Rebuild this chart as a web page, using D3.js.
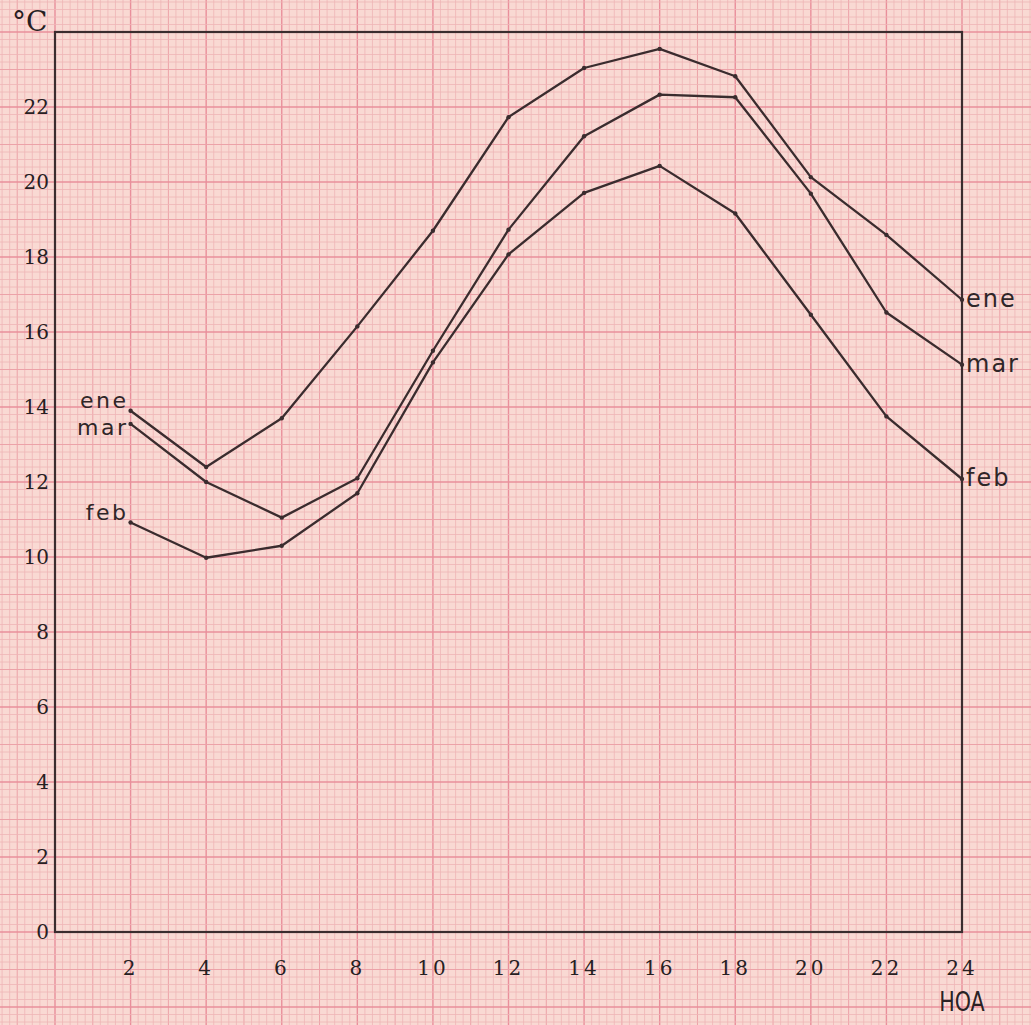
<!DOCTYPE html>
<html><head><meta charset="utf-8">
<script src="https://cdn.jsdelivr.net/npm/d3@7"></script>
<style>html,body{margin:0;padding:0;background:#f8d5d0;}svg{display:block;}</style>
</head><body><svg id="c" width="1031" height="1025"></svg>
<script>
const hours = [2,4,6,8,10,12,14,16,18,20,22,24];
const ene = [13.9,12.4,13.7,16.15,18.7,21.73,23.04,23.55,22.82,20.13,18.59,16.86];
const feb = [10.92,9.98,10.3,11.7,15.19,18.07,19.71,20.43,19.16,16.46,13.75,12.08];
const mar = [13.55,12.0,11.05,12.1,15.5,18.73,21.22,22.33,22.26,19.69,16.52,15.13];
const xTicks = [2,4,6,8,10,12,14,16,18,20,22,24];
const yTicks = [0,2,4,6,8,10,12,14,16,18,20,22];
const seriesNames = ["ene","mar","feb"];

const W = 1031, H = 1025;
const svg = d3.select("#c");
const x = d3.scaleLinear().domain([0,24]).range([55,962]);
const y = d3.scaleLinear().domain([0,24]).range([932,32]);

// graph paper
svg.append("rect").attr("width",W).attr("height",H).attr("fill","#f9d9d3");
const g = svg.append("g");
const xs = d3.range(Math.ceil(x.invert(0)/0.2)*0.2, x.invert(W), 0.2);
const ys = d3.range(Math.ceil(y.invert(H)/0.2)*0.2, y.invert(0), 0.2);
function weight(v){
  const k = Math.round(v/0.2);
  if (k % 10 === 0) return {c:"#e98f9b", w:1.4};
  if (k % 5 === 0) return {c:"#eca2a8", w:1.0};
  return {c:"#efb5b6", w:0.8};
}
xs.forEach(v=>{const s=weight(v); g.append("line").attr("x1",x(v)).attr("x2",x(v)).attr("y1",0).attr("y2",H).attr("stroke",s.c).attr("stroke-width",s.w);});
ys.forEach(v=>{const s=weight(v); g.append("line").attr("y1",y(v)).attr("y2",y(v)).attr("x1",0).attr("x2",W).attr("stroke",s.c).attr("stroke-width",s.w);});

const ink = "#3a2c2e";
// frame
svg.append("rect").attr("x",x(0)).attr("y",y(24)).attr("width",x(24)-x(0)).attr("height",y(0)-y(24))
  .attr("fill","none").attr("stroke",ink).attr("stroke-width",2.2);

// axis labels
const serif = "'DejaVu Serif', 'Liberation Serif', serif";
svg.append("g").selectAll("text").data(yTicks).join("text")
  .attr("x",49).attr("y",d=>y(d)).attr("dy","0.36em").attr("text-anchor","end")
  .attr("font-family",serif).attr("font-size",20).attr("fill","#262022").text(d=>d);
svg.append("g").selectAll("text").data(xTicks).join("text")
  .attr("x",d=>x(d)).attr("y",968).attr("dy","0.36em").attr("text-anchor","middle")
  .attr("font-family",serif).attr("font-size",20).attr("letter-spacing",3).attr("fill","#262022").text(d=>d);
svg.append("text").attr("x",12).attr("y",31).attr("font-family",serif).attr("font-size",28).attr("fill","#262022").text("°C");
svg.append("text").attr("x",962).attr("y",1011).attr("text-anchor","middle")
  .attr("font-family","'Liberation Sans Narrow','DejaVu Sans Condensed',sans-serif").attr("font-size",27)
  .attr("transform","translate(962,1011) scale(0.85,1) translate(-962,-1011)")
  .attr("fill","#2a2224").text("HOA");

// lines
const data = {ene, mar, feb};
const line = d3.line().x(d=>x(d[0])).y(d=>y(d[1]));
seriesNames.forEach(n=>{
  const pts = hours.map((h,i)=>[h,data[n][i]]);
  svg.append("path").attr("d",line(pts)).attr("fill","none").attr("stroke",ink).attr("stroke-width",2.3).attr("stroke-linejoin","round");
  svg.append("g").selectAll("circle").data(pts).join("circle").attr("cx",d=>x(d[0])).attr("cy",d=>y(d[1])).attr("r",2.2).attr("fill",ink);
});

// series labels
const lab = "'DejaVu Sans', 'Liberation Sans', sans-serif";
const leftOff = {ene:-3, mar:11, feb:-3};
seriesNames.forEach(n=>{
  const v = data[n][0];
  svg.append("text").attr("x",x(2)-2).attr("y",y(v)+leftOff[n])
    .attr("text-anchor","end").attr("font-family",lab).attr("font-size",22).attr("letter-spacing",2.5)
    .attr("fill","#2f2628").text(n);
});
seriesNames.forEach(n=>{
  const v = data[n][data[n].length-1];
  svg.append("text").attr("x",x(24)+4).attr("y",y(v)).attr("dy","0.3em")
    .attr("font-family",lab).attr("font-size",24).attr("letter-spacing",2)
    .attr("fill","#2f2628").text(n);
});
</script></body></html>
